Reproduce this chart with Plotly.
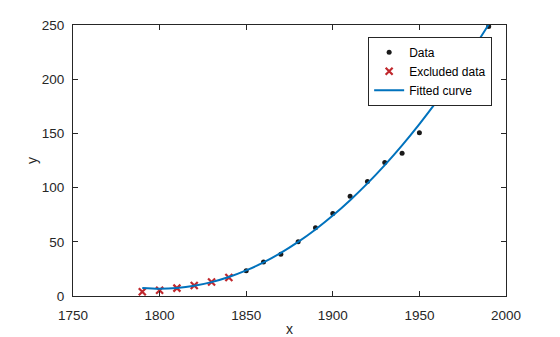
import plotly.graph_objects as go

years_data = [1850, 1860, 1870, 1880, 1890, 1900, 1910, 1920, 1930, 1940, 1950, 1960, 1970, 1980, 1990]
pop_data = [23.192, 31.443, 38.558, 50.156, 62.948, 75.995, 91.972, 105.711, 123.203, 131.669, 150.697, 179.323, 203.212, 226.505, 248.710]

years_excl = [1790, 1800, 1810, 1820, 1830, 1840]
pop_excl = [3.929, 5.308, 7.240, 9.638, 12.866, 17.069]

years_fit = [1790, 1800, 1810, 1820, 1830, 1840, 1850, 1860, 1870, 1880, 1890, 1900,
             1910, 1920, 1930, 1940, 1950, 1960, 1970, 1980, 1990]
pop_fit = [7.35, 6.7, 7.4, 9.4, 12.8, 17.5, 23.6, 31.0, 39.8, 49.9, 61.4, 74.2,
           88.4, 103.9, 120.8, 139.0, 158.6, 179.5, 201.8, 225.4, 250.4]

x_ticks = [1750, 1800, 1850, 1900, 1950, 2000]
y_ticks = [0, 50, 100, 150, 200, 250]

axis_color = "#262626"
font_family = "Liberation Sans, Arial, sans-serif"

fig = go.Figure()
fig.add_trace(go.Scatter(
    x=years_data, y=pop_data, mode="markers", name="Data",
    marker=dict(color="#1a1a1a", size=5, symbol="circle"),
))
fig.add_trace(go.Scatter(
    x=years_excl, y=pop_excl, mode="markers", name="Excluded data",
    marker=dict(color="#C0282D", size=7, symbol="x-thin", line=dict(color="#C0282D", width=2.2)),
))
fig.add_trace(go.Scatter(
    x=years_fit, y=pop_fit, mode="lines", name="Fitted curve",
    line=dict(color="#0072BD", width=2, shape="spline"),
))

common_axis = dict(
    showgrid=False, zeroline=False, showline=True, mirror="ticks",
    linecolor=axis_color, linewidth=1, ticks="inside", ticklen=5,
    tickcolor=axis_color, tickfont=dict(size=13.5, color=axis_color, family=font_family),
    automargin=False,
)

fig.update_xaxes(range=[1750, 2000], tickvals=x_ticks, ticklabelstandoff=7, **common_axis,
                 title=dict(text="x", font=dict(size=14, color=axis_color, family=font_family), standoff=5))
fig.update_yaxes(range=[0, 250], tickvals=y_ticks, ticklabelstandoff=5, **common_axis,
                 title=dict(text="y", font=dict(size=14, color=axis_color, family=font_family), standoff=0))

fig.update_layout(
    width=560, height=337,
    margin=dict(l=73, r=54, t=25, b=41),
    plot_bgcolor="white", paper_bgcolor="white",
    font=dict(family=font_family, color=axis_color),
    legend=dict(
        x=0.968, y=0.957, xanchor="right", yanchor="top",
        bgcolor="white", bordercolor=axis_color, borderwidth=1,
        font=dict(size=12, color="#000000", family=font_family),
        tracegroupgap=0, itemwidth=30,
    ),
)

fig.write_html("out.html")
